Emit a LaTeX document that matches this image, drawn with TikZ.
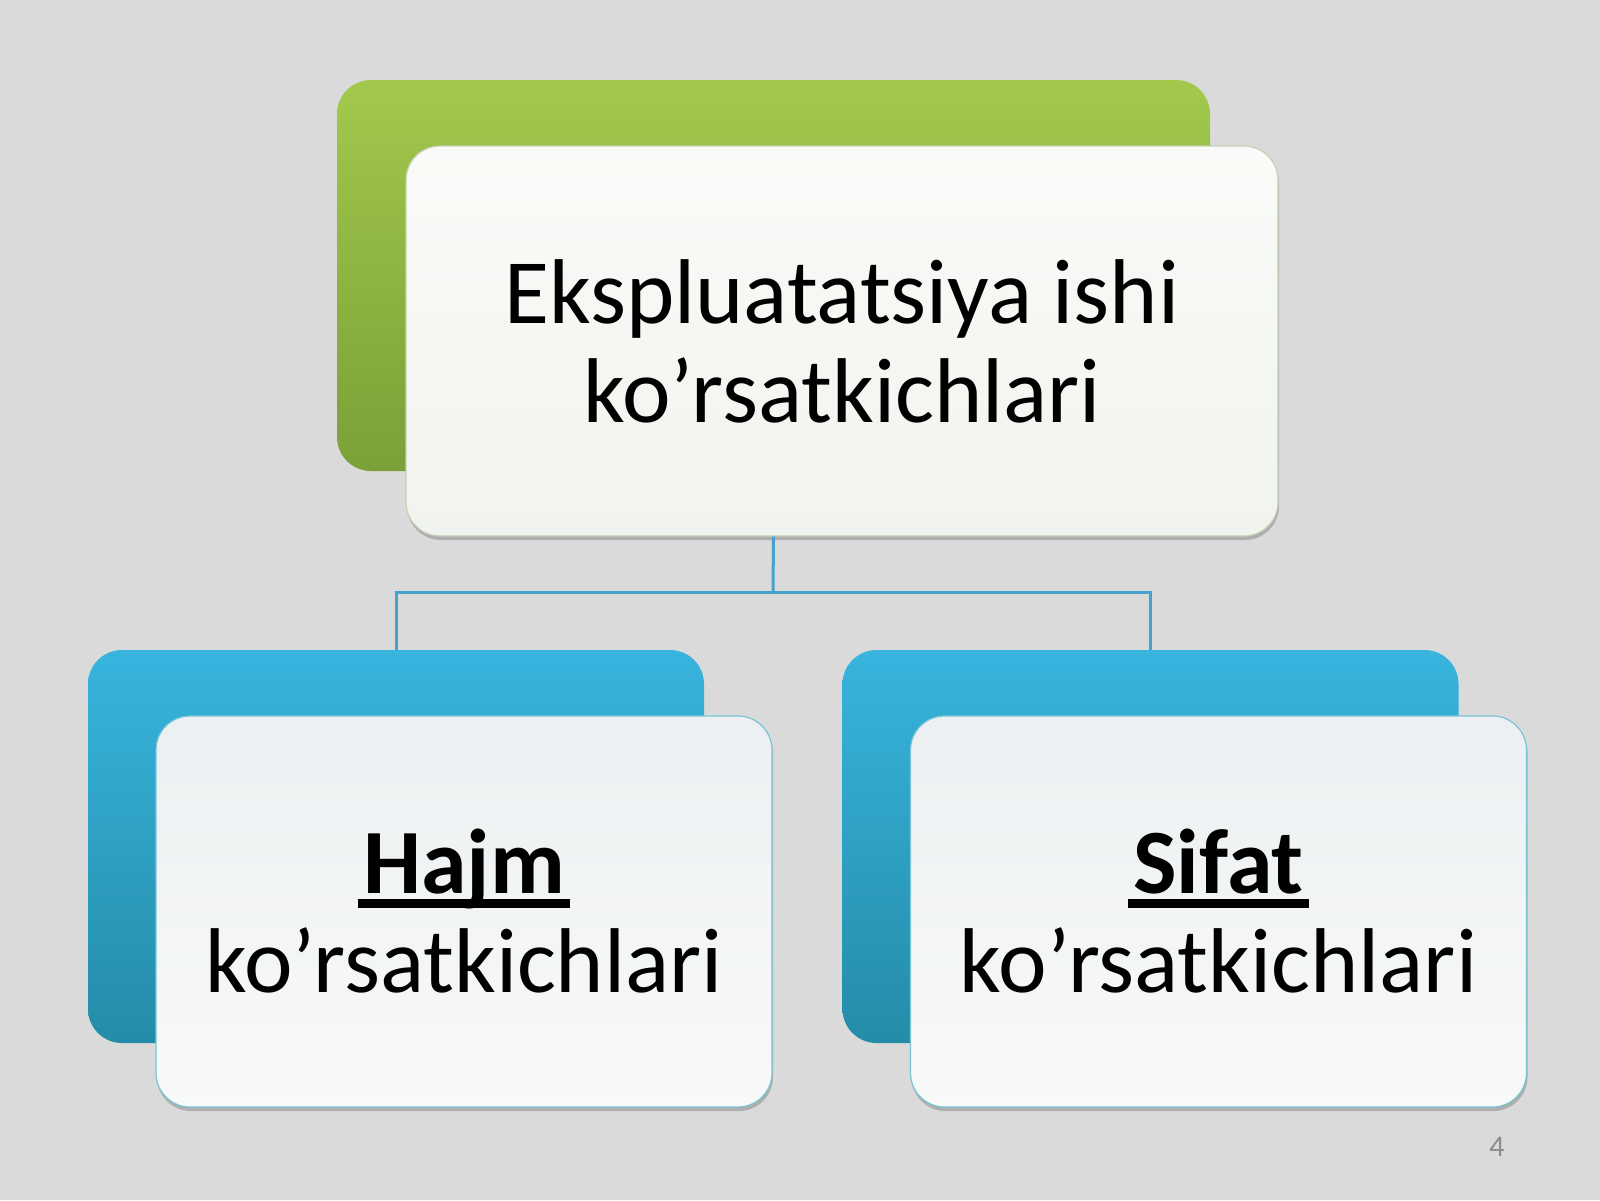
\documentclass[tikz,border=0pt]{standalone}
\usepackage{fontspec}
\setmainfont{Carlito}
\usetikzlibrary{shadows}
\definecolor{bgc}{RGB}{218,218,218}
\definecolor{gtop}{RGB}{162,200,76}
\definecolor{gbot}{RGB}{122,160,56}
\definecolor{btop}{RGB}{56,180,222}
\definecolor{bbot}{RGB}{36,140,168}
\definecolor{wtop}{RGB}{236,240,242}
\definecolor{wbot}{RGB}{248,249,249}
\definecolor{mtop}{RGB}{250,251,248}
\definecolor{mbot}{RGB}{240,243,238}
\definecolor{mborder}{RGB}{198,208,180}
\definecolor{bborder}{RGB}{120,196,212}
\definecolor{connc}{RGB}{72,162,206}
\definecolor{numc}{RGB}{140,140,140}
\newcommand\ulthick[1]{\setbox0\hbox{#1}\rlap{\hspace{-2.5pt}\rule[-7pt]{\dimexpr\wd0+5pt\relax}{4.5pt}}\box0}
\begin{document}
\begin{tikzpicture}[x=0.5pt,y=-0.5pt,
  backbox/.style={rounded corners=17pt, inner sep=0pt, draw=none},
  greenbox/.style={backbox, top color=gtop, bottom color=gbot},
  bluebox/.style={backbox, top color=btop, bottom color=bbot},
  frontbox/.style={rounded corners=17pt, inner sep=0pt, line width=0.6pt,
    align=center, font=\fontsize{46}{49.5}\selectfont,
    drop shadow={shadow xshift=0.5pt, shadow yshift=-2pt, opacity=0.2, fill=black}},
  mainbox/.style={frontbox, draw=mborder, top color=mtop, bottom color=mbot},
  subbox/.style={frontbox, draw=bborder, top color=wtop, bottom color=wbot},
  connector/.style={draw=connc, line width=1.5pt}]
\path[use as bounding box, fill=bgc] (0,0) rectangle (1600,1200);
% top
\node[greenbox, minimum width=436.5pt, minimum height=195.5pt] (g) at (773.5,275.5) {};
\node[mainbox, minimum width=436pt, minimum height=195pt] (m) at (842,341)
  {Ekspluatatsiya ishi\\ko’rsatkichlari};
% left
\node[bluebox, minimum width=308pt, minimum height=196.5pt] (lb) at (396,846.5) {};
\node[subbox, minimum width=308pt, minimum height=195.5pt] (lw) at (464,911.5)
  {\textbf{\ulthick{Hajm}}\\ko’rsatkichlari};
% right
\node[bluebox, minimum width=308pt, minimum height=196.5pt] (rb) at (1150.5,846.5) {};
\node[subbox, minimum width=308pt, minimum height=195.5pt] (rw) at (1218.5,911.5)
  {\textbf{\ulthick{Sifat}}\\ko’rsatkichlari};
% connectors
\coordinate (bus) at (773,592);
\draw[connector] (m.south -| g.south) -- (bus);
\draw[connector] (bus) -| (lb.north);
\draw[connector] (bus) -| (rb.north);
% slide number
\node[text=numc, font=\fontsize{15}{18}\selectfont] (num) at (1497,1147) {4};
\end{tikzpicture}
\end{document}
